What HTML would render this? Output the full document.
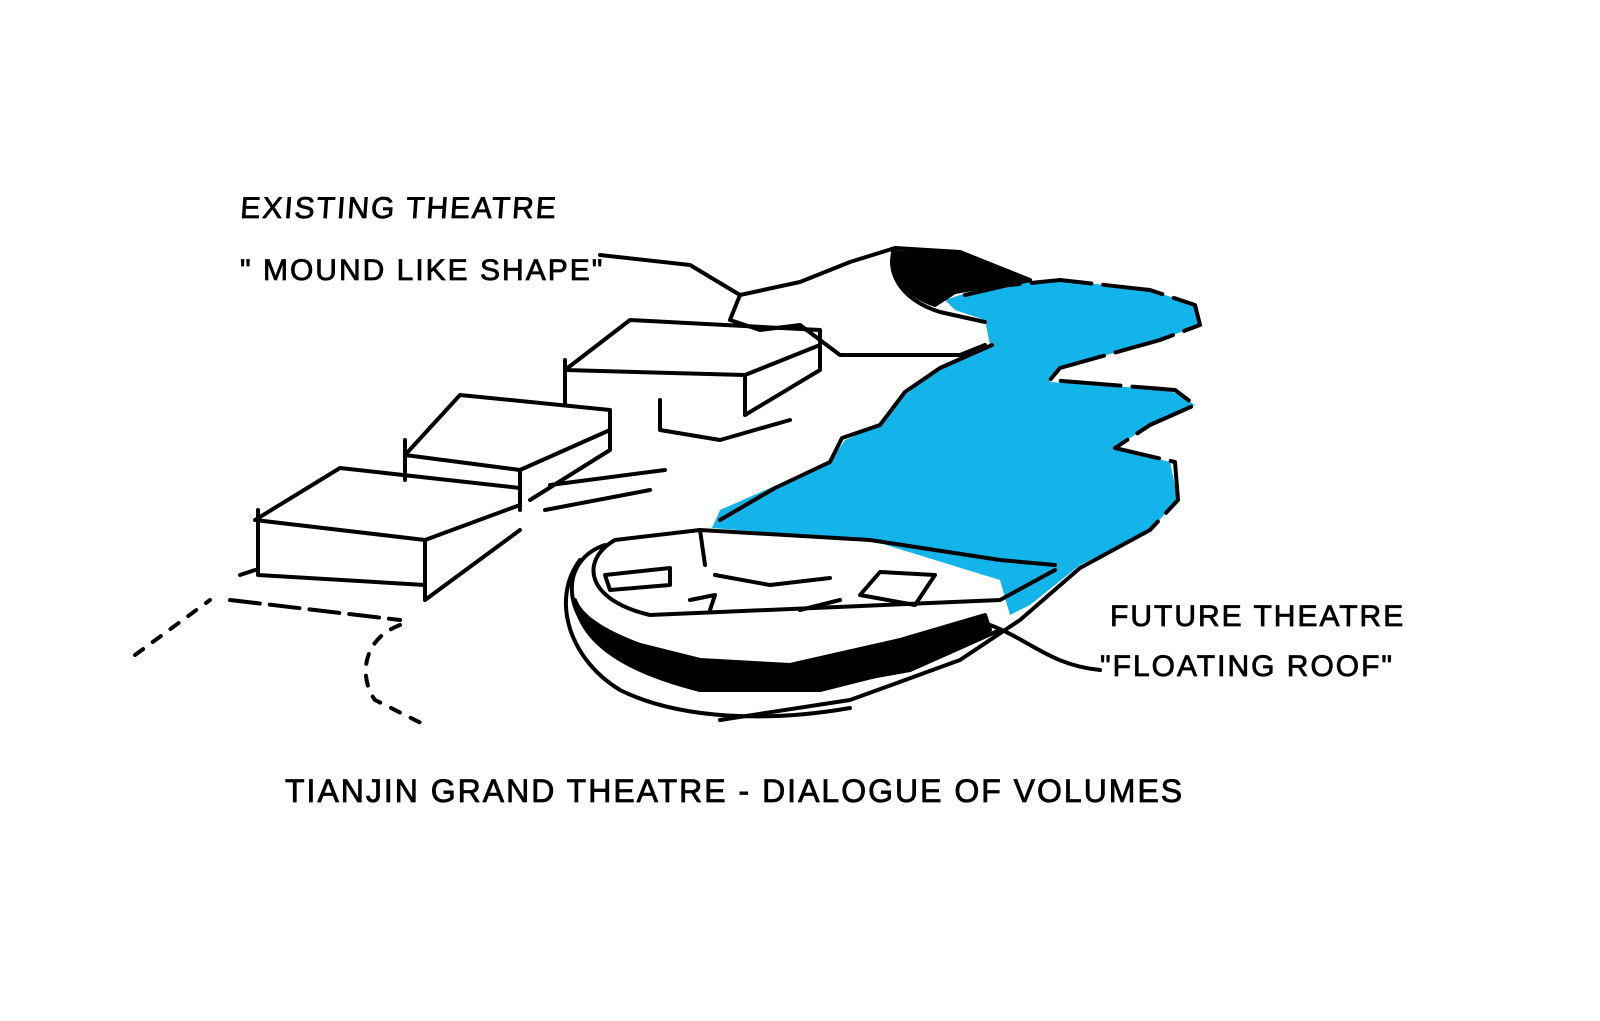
<!DOCTYPE html>
<html><head><meta charset="utf-8"><style>
html,body{margin:0;padding:0;background:#fff;}
svg{display:block}
text{font-family:"Liberation Sans",sans-serif;fill:#000;stroke:#000;stroke-width:0.8;}
</style></head><body>
<svg width="1600" height="1021" viewBox="0 0 1600 1021" xmlns="http://www.w3.org/2000/svg">
<g fill="none" stroke="#000" stroke-width="4" stroke-linecap="round" stroke-linejoin="round">
<!-- water -->
<path fill="#12b4ea" stroke="none" d="M945,300 L990,285 L1060,280 L1150,290 L1195,305 L1200,325 L1160,340 L1060,368 L1050,382 L1170,390 L1195,405 L1150,425 L1115,448 L1170,462 L1178,500 L1150,530 L1080,565 L1030,605 L1010,615 L1000,580 L870,540 L712,528 L720,510 L770,488 L830,462 L845,440 L880,425 L905,395 L940,368 L990,345 L985,320 L955,310 Z"/>
<path d="M720,520 L775,488 L830,462 L842,438 L880,425 L905,392 L940,368 L992,345"/>
<path d="M960,290 L1060,280 L1150,290 L1195,305 L1200,325 L1160,340 L1060,368 L1050,380 L1175,390 L1195,405 L1150,425 L1115,448 L1175,462 L1178,500 L1150,530" stroke-dasharray="60 12"/>
<path d="M1150,530 L1080,568 L1020,620 L960,660 L850,700 L720,720"/>
<!-- mound -->
<path d="M600,255 L690,265 L740,295 L800,282 L850,262 L895,248 L960,252 L1030,280 L965,295"/>
<path d="M895,248 C885,270 900,300 940,312 L985,322"/>
<path d="M740,295 L730,320 L760,330 L800,325 L840,355 L960,355 L985,345"/>
<path fill="#000" d="M893,252 L960,255 L1025,280 L955,292 L935,305 C905,295 890,272 893,252 Z"/>
<!-- boxes -->
<path d="M630,320 L820,330 L820,345 L745,375 L565,370 L630,320 Z M745,375 L745,415 M820,330 L820,370 L745,415 M565,360 L565,405 M660,400 L660,430 L720,440 L790,420"/>
<path d="M460,395 L610,410 L610,430 L520,470 L405,455 L460,395 Z M520,470 L520,510 M610,410 L610,450 L530,500 M405,440 L405,480 M550,485 L665,470 M545,510 L650,490"/>
<path d="M340,468 L520,488 L520,505 L425,540 L255,520 L340,468 Z M425,540 L425,600 L520,530 M258,510 L258,575 L425,585 M240,575 L255,570"/>
<path d="M230,600 L400,620" stroke-dasharray="30 10"/>
<path d="M135,655 L210,600" stroke-dasharray="10 12"/>
<path d="M400,625 C360,640 360,680 375,700 L425,725" stroke-dasharray="10 12"/>
<!-- theatre -->
<path d="M1055,565 L1000,560 L870,540 L700,530 L615,540 C580,560 585,600 650,615 L1000,600 L1055,570"/>
<path d="M605,545 C560,560 560,615 610,650 C650,680 720,690 800,690 L910,670 L1000,630"/>
<path d="M580,560 C550,600 570,660 620,690 C680,720 770,722 850,708"/>
<path fill="#000" d="M575,600 C580,640 620,670 700,690 L820,690 L920,665 L990,630 L985,615 L900,640 L790,665 L700,660 L640,645 C600,630 580,615 575,600 Z"/>
<path d="M605,575 L670,568 L670,585 L610,590 Z M715,575 L770,585 L830,578 M860,595 L880,572 L935,575 L915,605 Z M690,600 L715,595 L710,610 M800,610 L840,600"/>
<path d="M700,530 L705,565 M990,625 C1030,640 1050,665 1100,670"/>
</g>
<g font-size="30" letter-spacing="2">
<text x="255" y="218" transform="skewX(-4)">EXISTING THEATRE</text>
<text x="240" y="280">" MOUND LIKE SHAPE"</text>
<text x="1110" y="626">FUTURE THEATRE</text>
<text x="1100" y="676">"FLOATING ROOF"</text>
<text x="285" y="802" font-size="32">TIANJIN GRAND THEATRE  - DIALOGUE OF VOLUMES</text>
</g>
</svg>
</body></html>
